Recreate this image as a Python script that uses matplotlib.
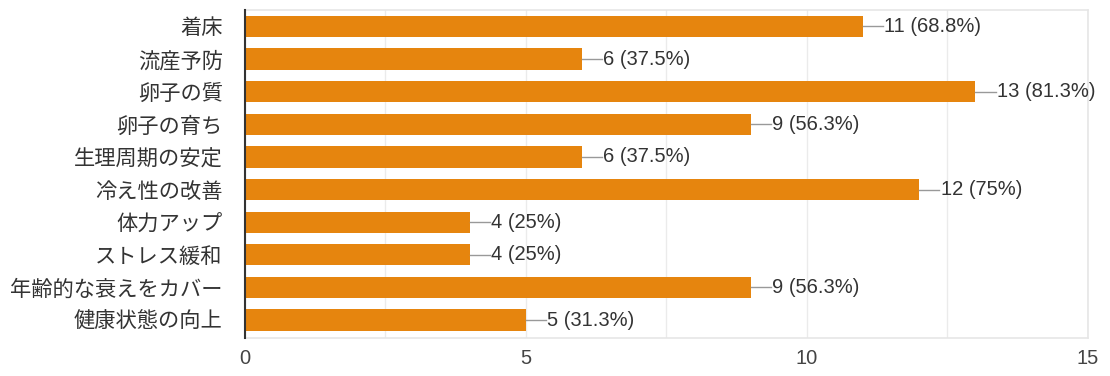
import matplotlib.pyplot as plt
import numpy as np

plt.rcParams['font.family'] = ['Liberation Sans', 'Noto Sans CJK JP', 'DejaVu Sans']

# data
labels = ['着床', '流産予防', '卵子の質', '卵子の育ち', '生理周期の安定',
          '冷え性の改善', '体力アップ', 'ストレス緩和', '年齢的な衰えをカバー', '健康状態の向上']
counts = [11, 6, 13, 9, 6, 12, 4, 4, 9, 5]
pcts = ['68.8%', '37.5%', '81.3%', '56.3%', '37.5%', '75%', '25%', '25%', '56.3%', '31.3%']
xticks = [0, 5, 10, 15]

bar_color = '#E6850E'
text_color = '#333333'

fig = plt.figure(figsize=(11.1, 3.76), dpi=100)
ax = fig.add_axes([0.2207, 0.101, 0.7593, 0.872])

y = np.arange(len(labels))
ax.barh(y, counts, height=0.65, color=bar_color, zorder=3)

# value labels with short connector line
for yi, c, p in zip(y, counts, pcts):
    ax.plot([c, c + 0.36], [yi, yi], color='#999999', lw=1, zorder=3)
    ax.text(c + 0.38, yi, f'{c} ({p})', va='center', ha='left',
            fontsize=14.5, color=text_color, zorder=4)

ax.set_xlim(0, 15)
ax.set_ylim(len(labels) - 0.45, -0.5)
ax.set_yticks(y)
ax.set_yticklabels(labels, fontsize=15.3, color=text_color)
ax.set_xticks(xticks)
ax.set_xticklabels([str(t) for t in xticks], fontsize=14.5, color='#444444')
ax.set_xticks(np.arange(0, 15.01, 2.5), minor=True)
ax.grid(True, axis='x', which='both', color='#ebebeb', lw=1, zorder=0)
ax.tick_params(axis='both', which='both', length=0)
ax.tick_params(axis='x', pad=8)
ax.tick_params(axis='y', pad=16)

for s in ['top', 'right', 'bottom']:
    ax.spines[s].set_color('#e6e6e6')
    ax.spines[s].set_linewidth(1.2)
ax.spines['left'].set_color('#333333')
ax.spines['left'].set_linewidth(1.5)
ax.spines['left'].set_zorder(5)

fig.savefig('out.png', dpi=100)
